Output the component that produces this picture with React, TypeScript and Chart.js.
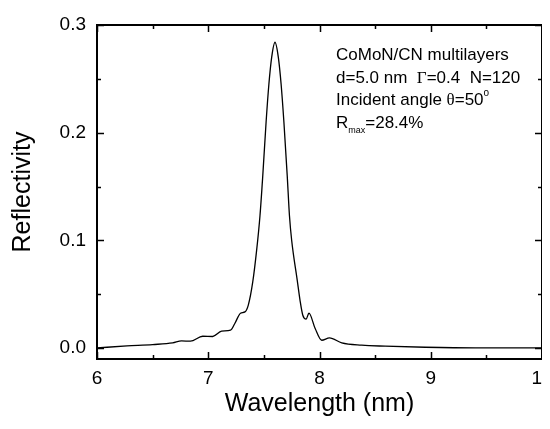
import React, { useEffect, useRef } from "react";
import { Chart, registerables } from "chart.js";

Chart.register(...registerables);

// Wavelength (nm)
const wavelength = [
  6.0, 6.27, 6.5, 6.68, 6.76, 6.84, 6.95, 7.04, 7.12, 7.2, 7.24, 7.29, 7.33, 7.36,
  7.4, 7.435, 7.465, 7.49, 7.52, 7.545, 7.57, 7.6, 7.63, 7.655, 7.68, 7.71,
  7.73, 7.75, 7.8, 7.825, 7.85, 7.88, 7.905, 7.96, 8.02, 8.09, 8.2, 8.38, 8.59,
  8.95, 9.4, 10.0,
];
// Reflectivity
const reflectivity = [
  0.0003, 0.0021, 0.0034, 0.0049, 0.0068, 0.0065, 0.0111, 0.0109, 0.0158, 0.0167,
  0.0232, 0.0325, 0.0337, 0.04, 0.0615, 0.091, 0.123, 0.16, 0.21, 0.245, 0.27,
  0.284, 0.27, 0.245, 0.21, 0.16, 0.123, 0.1, 0.063, 0.0445, 0.0306, 0.027,
  0.0325, 0.0186, 0.0074, 0.0096, 0.0049, 0.0028, 0.0019, 0.0009, 0.0003, 0.0003,
];

const xMajorTicks = [6, 7, 8, 9, 10];
const xMinorTicks = [6.5, 7.5, 8.5, 9.5];
const yMajorTicks = [0.0, 0.1, 0.2, 0.3];
const yMinorTicks = [0.05, 0.15, 0.25];

const xTitle = "Wavelength (nm)";
const yTitle = "Reflectivity";
const noteLine1 = "CoMoN/CN multilayers";
const noteGamma = "0.4";
const noteN = "120";
const noteD = "5.0";
const noteAngle = "50";
const noteRmax = "28.4%";

const SANS = "'Liberation Sans', Arial, Helvetica, sans-serif";
const SERIF = "'Liberation Serif', 'Times New Roman', serif";

const framePlugin = {
  id: "frameTicksNote",
  afterDraw(chart: any) {
    const { ctx, chartArea, scales } = chart;
    const { left, right, top, bottom } = chartArea;
    const xs = scales.x;
    const ys = scales.y;
    ctx.save();
    ctx.strokeStyle = "#000";
    ctx.lineWidth = 2;
    ctx.strokeRect(left, top, right - left, bottom - top);
    ctx.lineWidth = 1.5;
    ctx.beginPath();
    const xt = (v: number, len: number) => {
      const p = Math.round(xs.getPixelForValue(v)) + 0.5;
      ctx.moveTo(p, bottom);
      ctx.lineTo(p, bottom - len);
      ctx.moveTo(p, top);
      ctx.lineTo(p, top + len);
    };
    const yt = (v: number, len: number) => {
      const p = Math.round(ys.getPixelForValue(v)) + 0.5;
      ctx.moveTo(left, p);
      ctx.lineTo(left + len, p);
      ctx.moveTo(right, p);
      ctx.lineTo(right - len, p);
    };
    xMajorTicks.forEach((v) => xt(v, 7));
    xMinorTicks.forEach((v) => xt(v, 4));
    yMajorTicks.forEach((v) => yt(v, 7));
    yMinorTicks.forEach((v) => yt(v, 4));
    ctx.stroke();

    // annotation
    ctx.fillStyle = "#000";
    ctx.textBaseline = "alphabetic";
    ctx.textAlign = "left";
    const fs = 17;
    const sans = `${fs}px ${SANS}`;
    const serif = `${fs}px ${SERIF}`;
    const x0 = 328;
    const draw = (parts: [string, string, number][], y: number) => {
      let x = x0;
      parts.forEach(([t, f, dy]) => {
        ctx.font = f;
        ctx.fillText(t, x, y + dy);
        x += ctx.measureText(t).width;
      });
    };
    draw([[noteLine1, sans, 0]], 52);
    draw(
      [
        [`d=${noteD} nm  `, sans, 0],
        ["\u0393", serif, 0],
        [`=${noteGamma}  N=${noteN}`, sans, 0],
      ],
      74.5
    );
    draw(
      [
        ["Incident angle ", sans, 0],
        ["\u03B8", serif, 0],
        [`=${noteAngle}`, sans, 0],
        ["o", `10px ${SANS}`, -9],
      ],
      97
    );
    draw(
      [
        ["R", sans, 0],
        ["max", `9px ${SANS}`, 5],
        [`=${noteRmax}`, sans, 0],
      ],
      120
    );
    ctx.restore();
  },
};

export default function App() {
  const ref = useRef<HTMLCanvasElement | null>(null);
  useEffect(() => {
    if (!ref.current) return;
    const chart = new Chart(ref.current, {
      type: "line",
      data: {
        datasets: [
          {
            data: wavelength.map((w, i) => ({ x: w, y: reflectivity[i] })),
            borderColor: "#000",
            borderWidth: 1.3,
            pointRadius: 0,
            fill: false,
            cubicInterpolationMode: "monotone",
          },
        ],
      },
      options: {
        animation: false,
        responsive: false,
        layout: { padding: { left: 0, right: 8, top: 17, bottom: 0 } },
        plugins: { legend: { display: false }, tooltip: { enabled: false } },
        scales: {
          x: {
            type: "linear",
            min: 6,
            max: 10,
            grid: { display: false, drawTicks: false },
            border: { display: false },
            ticks: {
              stepSize: 1,
              autoSkip: false,
              maxRotation: 0,
              padding: 8,
              color: "#000",
              font: { family: SANS, size: 19 },
            },
            afterBuildTicks: (s: any) => {
              s.ticks = xMajorTicks.map((v) => ({ value: v }));
            },
            afterFit: (s: any) => {
              s.height = 62;
              s.paddingLeft = 0;
              s.paddingRight = 0;
            },
            title: {
              display: true,
              text: xTitle,
              color: "#000",
              font: { family: SANS, size: 25 },
              padding: { top: 0, bottom: 2 },
            },
          },
          y: {
            type: "linear",
            min: -0.01,
            max: 0.3,
            grid: { display: false, drawTicks: false },
            border: { display: false },
            ticks: {
              padding: 11,
              color: "#000",
              font: { family: SANS, size: 19 },
              callback: (v: any) => Number(v).toFixed(1),
            },
            afterBuildTicks: (s: any) => {
              s.ticks = yMajorTicks.map((v) => ({ value: v }));
            },
            afterFit: (s: any) => {
              s.width = 89;
              s.paddingTop = 0;
              s.paddingBottom = 0;
            },
            title: {
              display: true,
              text: yTitle,
              color: "#000",
              font: { family: SANS, size: 25 },
              padding: { top: 0, bottom: 0 },
            },
          },
        },
      },
      plugins: [framePlugin],
    } as any);
    return () => chart.destroy();
  }, []);
  return (
    <div style={{ width: 542, height: 413, overflow: "hidden" }}>
      <canvas ref={ref} width={542} height={413} style={{ display: "block" }} />
    </div>
  );
}
